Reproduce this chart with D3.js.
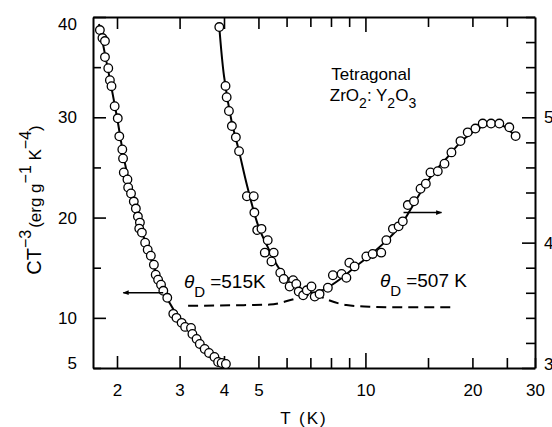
<!DOCTYPE html>
<html>
<head>
<meta charset="utf-8">
<script src="https://cdn.jsdelivr.net/npm/d3@7"></script>
<style>
  body { margin: 0; background: #fff; }
  svg { font-family: "Liberation Sans", Arial, sans-serif; }
</style>
</head>
<body>
<div id="chart"></div>
<script>
// measured points, left curve (left axis)
var leftT = [1.79,1.82,1.85,1.85,1.89,1.91,1.93,1.97,2.01,2.03,2.07,2.08,2.09,2.14,2.15,2.19,2.23,2.26,2.29,2.32,2.31,2.35,2.40,2.44,2.49,2.54,2.57,2.61,2.66,2.70,2.77,2.88,2.94,3.04,3.11,3.23,3.26,3.35,3.42,3.53,3.63,3.76,3.85,3.94,4.05];
var leftC = [38.7,37.9,37.6,36.0,34.9,33.7,33.1,31.1,29.9,28.1,26.8,25.9,24.5,23.8,23.0,22.4,21.6,20.9,20.1,19.5,18.9,18.5,17.5,16.8,16.2,15.3,14.3,13.8,13.3,12.7,12.0,10.4,10.0,9.5,9.1,9.0,8.4,7.9,7.4,6.9,6.5,6.1,5.6,5.5,5.4];

// measured points, right curve (right axis)
var rightT = [3.88,4.04,4.07,4.13,4.21,4.32,4.41,4.64,4.85,4.87,4.96,5.10,5.31,5.21,5.52,5.44,5.76,5.89,6.26,6.12,6.39,6.49,6.68,6.84,7.05,7.20,7.43,7.84,8.10,8.57,8.84,9.01,9.32,10.06,10.48,11.08,11.45,11.95,12.40,12.74,13.16,13.70,14.29,14.79,15.24,15.98,16.69,17.46,18.51,19.40,20.39,21.38,22.57,23.81,25.40,26.46];
var rightC = [5.72,5.25,5.16,5.05,4.93,4.84,4.73,4.37,4.37,4.24,4.10,4.11,4.02,3.92,3.92,3.85,3.76,3.71,3.70,3.65,3.67,3.61,3.58,3.62,3.65,3.57,3.59,3.64,3.74,3.75,3.72,3.84,3.81,3.89,3.91,3.92,4.02,4.11,4.13,4.17,4.30,4.33,4.43,4.47,4.56,4.57,4.63,4.72,4.81,4.88,4.91,4.95,4.95,4.95,4.92,4.85];

// smooth curves drawn through the points
var leftFitT = [1.78,1.9,2.0,2.1,2.2,2.3,2.4,2.5,2.6,2.7,2.8,3.0,3.2,3.4,3.6,3.8,4.05];
var leftFitC = [39.3,34.2,30.0,25.6,22.4,19.9,17.6,15.8,14.2,12.8,11.6,9.9,8.6,7.6,6.6,5.9,5.3];
var rightFitT = [3.88,4.0,4.2,4.4,4.65,5.0,5.3,5.7,6.2,6.7,7.2,7.8,8.5,9.3,10.3,11.5,12.5,13.5,14.5,15.5,17,18.5,20,21.5,23,24.5,26.4];
var rightFitC = [5.72,5.33,4.97,4.74,4.45,4.13,3.97,3.80,3.69,3.62,3.60,3.64,3.71,3.80,3.90,4.02,4.13,4.28,4.43,4.55,4.68,4.80,4.88,4.93,4.95,4.93,4.85];

// dashed Debye curves (left axis units)
var debyeT = [3.17,4.15,5.38,6.12,6.82,7.1,7.76,8.84,10.27,12.72,17.43];
var debyeC = [11.2,11.25,11.32,11.75,12.25,12.45,11.85,11.28,11.11,11.05,11.05];

// axis ticks
var xTicks = [2,3,4,5,6,7,8,9,10,15,20,25,30];
var xLabels = [2,3,4,5,10,20,30];
var yLeftTicks = [5,10,15,20,25,30,35,40];
var yLeftLabels = [5,10,20,30,40];
var yRightTicks = [3,3.2,3.4,3.6,3.8,4,4.2,4.4,4.6,4.8,5,5.2,5.4,5.6,5.8];
var yRightLabels = [3,4,5];

var svgWidth = 552;
var svgHeight = 427;
var plot = {left: 93, right: 535, top: 17, bottom: 368};

var svg = d3.select("#chart")
  .append("svg")
  .attr("width", svgWidth)
  .attr("height", svgHeight);

var x = d3.scaleLog().domain([1.712, 30]).range([plot.left, plot.right]);
var yL = d3.scaleLinear().domain([5, 40]).range([plot.bottom, plot.top]);
var yR = d3.scaleLinear().domain([3, 5.8]).range([plot.bottom, plot.top]);

function xTickLen(d) {
  if (d === 10) return 15;
  if (d <= 5) return 12;
  return 10;
}

// bottom axis
var bottomAxis = svg.append("g")
  .attr("transform", `translate(0, ${plot.bottom})`)
  .call(d3.axisBottom(x)
    .tickValues(xTicks)
    .tickSizeInner(-10)
    .tickSizeOuter(0)
    .tickPadding(16)
    .tickFormat(d => xLabels.indexOf(d) >= 0 ? d : ""));
bottomAxis.selectAll(".tick line").attr("y2", d => -xTickLen(d));

// top axis
var topAxis = svg.append("g")
  .attr("transform", `translate(0, ${plot.top})`)
  .call(d3.axisTop(x)
    .tickValues(xTicks.filter(d => d < 30))
    .tickSizeInner(-10)
    .tickSizeOuter(0)
    .tickFormat(""));
topAxis.selectAll(".tick line").attr("y2", d => xTickLen(d));

// left axis
var leftAxis = svg.append("g")
  .attr("transform", `translate(${plot.left}, 0)`)
  .call(d3.axisLeft(yL)
    .tickValues(yLeftTicks)
    .tickSizeInner(-8)
    .tickSizeOuter(0)
    .tickPadding(16)
    .tickFormat(d => yLeftLabels.indexOf(d) >= 0 ? d : ""));
leftAxis.selectAll(".tick line").attr("x2", d => d % 10 === 0 ? 13 : 8);
leftAxis.selectAll(".tick text").attr("dy", d => d === 40 ? "0.75em" : d === 5 ? "0" : "0.32em");

// right axis
var rightAxis = svg.append("g")
  .attr("transform", `translate(${plot.right}, 0)`)
  .call(d3.axisRight(yR)
    .tickValues(yRightTicks)
    .tickSizeInner(-9)
    .tickSizeOuter(0)
    .tickPadding(9)
    .tickFormat(d => yRightLabels.indexOf(d) >= 0 ? d : ""));
rightAxis.selectAll(".tick line").attr("x2", d => yRightLabels.indexOf(d) >= 0 ? -13 : -9);
rightAxis.selectAll(".tick text").attr("dy", d => d === 3 ? "0.1em" : "0.32em");

svg.selectAll(".domain").attr("stroke", "#000").attr("stroke-width", 2);
svg.selectAll(".tick line").attr("stroke", "#000").attr("stroke-width", 1.6);
svg.selectAll(".tick text").attr("font-size", 17).attr("fill", "#000")
  .attr("font-family", "Liberation Sans, Arial, sans-serif");

// fitted lines
var lineL = d3.line().x(d => x(d[0])).y(d => yL(d[1])).curve(d3.curveCatmullRom.alpha(0.5));
var lineR = d3.line().x(d => x(d[0])).y(d => yR(d[1])).curve(d3.curveCatmullRom.alpha(0.5));

svg.append("path")
  .datum(leftFitT.map((t, i) => [t, leftFitC[i]]))
  .attr("d", lineL)
  .attr("fill", "none").attr("stroke", "#000").attr("stroke-width", 2);

svg.append("path")
  .datum(rightFitT.map((t, i) => [t, rightFitC[i]]))
  .attr("d", lineR)
  .attr("fill", "none").attr("stroke", "#000").attr("stroke-width", 2);

svg.append("path")
  .datum(debyeT.map((t, i) => [t, debyeC[i]]))
  .attr("d", d3.line().x(d => x(d[0])).y(d => yL(d[1])).curve(d3.curveMonotoneX))
  .attr("fill", "none").attr("stroke", "#000").attr("stroke-width", 2)
  .attr("stroke-dasharray", "10,6");

// data points
svg.append("g").selectAll("circle")
  .data(leftT.map((t, i) => [t, leftC[i]]))
  .enter()
  .append("circle")
  .attr("cx", d => x(d[0]))
  .attr("cy", d => yL(d[1]))
  .attr("r", 4.3)
  .attr("fill", "#fff").attr("stroke", "#000").attr("stroke-width", 1.3);

svg.append("g").selectAll("circle")
  .data(rightT.map((t, i) => [t, rightC[i]]))
  .enter()
  .append("circle")
  .attr("cx", d => x(d[0]))
  .attr("cy", d => yR(d[1]))
  .attr("r", 4.3)
  .attr("fill", "#fff").attr("stroke", "#000").attr("stroke-width", 1.3);

// arrows pointing to the axis each curve belongs to
svg.append("defs").append("marker")
  .attr("id", "head")
  .attr("viewBox", "0 0 10 10")
  .attr("refX", 9).attr("refY", 5)
  .attr("markerWidth", 9).attr("markerHeight", 6)
  .attr("markerUnits", "userSpaceOnUse")
  .attr("orient", "auto")
  .append("path").attr("d", "M0,1 L10,5 L0,9 Z").attr("fill", "#000");

svg.append("line")
  .attr("x1", x(2.698)).attr("x2", x(2.083))
  .attr("y1", yL(12.51)).attr("y2", yL(12.51))
  .attr("stroke", "#000").attr("stroke-width", 1.5)
  .attr("marker-end", "url(#head)");

svg.append("line")
  .attr("x1", x(12.8)).attr("x2", x(16.37))
  .attr("y1", yR(4.24)).attr("y2", yR(4.24))
  .attr("stroke", "#000").attr("stroke-width", 1.5)
  .attr("marker-end", "url(#head)");

// labels
svg.append("text")
  .attr("x", 371).attr("y", 80)
  .attr("text-anchor", "middle")
  .attr("font-size", 17)
  .text("Tetragonal");

var formula = svg.append("text")
  .attr("x", 373).attr("y", 101)
  .attr("text-anchor", "middle")
  .attr("font-size", 17);
formula.append("tspan").text("ZrO");
formula.append("tspan").attr("dy", 7).attr("font-size", 14).text("2");
formula.append("tspan").attr("dy", -7).text(": Y");
formula.append("tspan").attr("dy", 7).attr("font-size", 14).text("2");
formula.append("tspan").attr("dy", -7).text("O");
formula.append("tspan").attr("dy", 7).attr("font-size", 14).text("3");

function debyeLabel(px, py, txt) {
  var t = svg.append("text")
    .attr("x", px).attr("y", py)
    .attr("font-size", 19);
  t.append("tspan").attr("font-style", "italic").text("θ");
  t.append("tspan").attr("dy", 9).attr("font-size", 15).text("D");
  t.append("tspan").attr("dy", -9).attr("dx", 5).text(txt);
}
debyeLabel(184, 288, "=515K");
debyeLabel(380, 287, "=507 K");

svg.append("text")
  .attr("x", 304).attr("y", 424)
  .attr("text-anchor", "middle")
  .attr("font-size", 17)
  .attr("letter-spacing", 2)
  .text("T (K)");

var ytitle = svg.append("text")
  .attr("transform", "translate(41, 200) rotate(-90)")
  .attr("text-anchor", "middle")
  .attr("font-size", 20);
ytitle.append("tspan").text("CT");
ytitle.append("tspan").attr("dy", -10).attr("font-size", 16).text("−3");
ytitle.append("tspan").attr("dy", 10).attr("dx", 2).attr("font-size", 17).text("(erg g");
ytitle.append("tspan").attr("dy", -10).attr("font-size", 16).text("−1");
ytitle.append("tspan").attr("dy", 10).attr("font-size", 17).text(" K");
ytitle.append("tspan").attr("dy", -10).attr("font-size", 16).text("−4");
ytitle.append("tspan").attr("dy", 10).attr("font-size", 17).text(")");
</script>
</body>
</html>
